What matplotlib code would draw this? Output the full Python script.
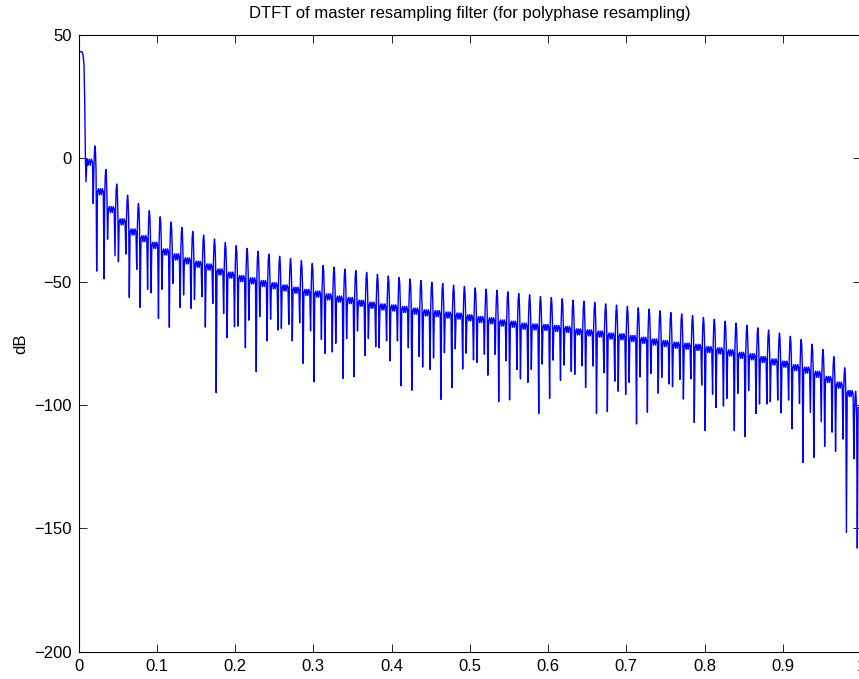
import numpy as np
import matplotlib.pyplot as plt

plt.rcParams['font.family'] = ['Liberation Sans', 'DejaVu Sans']

# Pasabanda del filtro (lóbulo principal)
main_f = [0.0, 0.0042, 0.0055, 0.0068, 0.0076, 0.0082, 0.0086, 0.0093]
main_db = [43.3, 43.2, 42.0, 38.0, 25.0, 8.0, 0.0, -9.5]

# Centros de las imágenes espectrales (k = 1..71)
centers = [0.0208, 0.0347, 0.0486, 0.0625, 0.0764, 0.0903, 0.1042, 0.1181, 0.1319, 0.1458,
           0.1597, 0.1736, 0.1875, 0.2014, 0.2153, 0.2292, 0.2431, 0.2569, 0.2708, 0.2847,
           0.2986, 0.3125, 0.3264, 0.3403, 0.3542, 0.3681, 0.3819, 0.3958, 0.4097, 0.4236,
           0.4375, 0.4514, 0.4653, 0.4792, 0.4931, 0.5069, 0.5208, 0.5347, 0.5486, 0.5625,
           0.5764, 0.5903, 0.6042, 0.6181, 0.6319, 0.6458, 0.6597, 0.6736, 0.6875, 0.7014,
           0.7153, 0.7292, 0.7431, 0.7569, 0.7708, 0.7847, 0.7986, 0.8125, 0.8264, 0.8403,
           0.8542, 0.8681, 0.8819, 0.8958, 0.9097, 0.9236, 0.9375, 0.9514, 0.9653, 0.9792,
           0.9931]

peak_db = [5.0, -4.5, -10.4, -14.9, -18.3, -21.2, -23.7, -25.8, -28.0, -29.6,
           -31.1, -32.7, -34.1, -35.4, -36.5, -37.7, -38.8, -39.7, -40.6, -41.5,
           -42.6, -43.4, -44.1, -44.9, -45.5, -46.2, -47.0, -47.7, -48.3, -48.9,
           -49.5, -50.2, -50.7, -51.4, -51.9, -52.5, -53.0, -53.5, -54.1, -54.8,
           -55.3, -56.0, -56.4, -56.9, -57.5, -57.9, -58.4, -59.0, -59.5, -60.0,
           -60.6, -61.1, -61.8, -62.5, -63.1, -63.7, -64.5, -65.2, -66.0, -66.8,
           -67.7, -68.7, -69.6, -70.8, -72.1, -73.4, -75.3, -77.5, -80.4, -84.9,
           -94.4]

# nivel de fondo después de cada imagen (el primero es antes de k = 1)
base_db = [-1.5,
           -13.5, -20.7, -25.7, -29.8, -32.5, -35.2, -37.9, -39.9, -41.5, -42.9,
           -44.0, -46.0, -47.3, -48.7, -49.6, -50.7, -51.6, -52.5, -53.4, -54.3,
           -55.0, -56.1, -57.0, -57.6, -58.7, -59.5, -60.2, -60.6, -61.2, -61.9,
           -62.6, -62.9, -63.5, -63.9, -64.6, -65.3, -65.8, -66.7, -67.2, -68.0,
           -68.3, -68.5, -68.9, -69.3, -70.3, -70.7, -71.2, -72.0, -72.3, -73.0,
           -73.7, -74.4, -75.0, -75.7, -76.1, -76.6, -77.5, -78.0, -78.8, -79.8,
           -80.4, -81.5, -82.5, -83.4, -84.8, -85.8, -87.5, -89.6, -91.9, -95.3,
           -101.0]

dip_left = [-18.3, -48.8, -39.5, -38.8, -45.0, -53.1, -64.9, -68.5, -60.4, -60.8,
            -56.1, -58.8, -62.9, -68.3, -76.8, -86.5, -74.0, -69.6, -67.3, -66.7,
            -69.9, -73.4, -78.5, -89.2, -88.5, -80.0, -76.4, -74.0, -74.0, -76.8,
            -80.4, -85.6, -97.7, -93.0, -85.4, -81.7, -79.4, -79.5, -82.1, -85.6,
            -90.8, -103.4, -97.3, -90.0, -86.4, -84.1, -84.2, -86.9, -90.3, -95.7,
            -107.7, -102.9, -95.2, -91.5, -89.6, -89.4, -91.9, -95.6, -100.4, -110.4,
            -112.9, -103.4, -99.6, -98.0, -98.0, -99.4, -103.0, -106.8, -111.0, -113.8,
            -121.8]

dip_right = [-45.7, -32.8, -41.9, -56.4, -60.4, -54.5, -53.1, -50.7, -55.4, -57.2,
             -68.4, -95.0, -72.7, -68.0, -65.6, -64.2, -65.2, -68.9, -74.0, -83.1,
             -90.6, -79.1, -75.0, -73.1, -70.0, -73.0, -76.8, -82.1, -92.2, -94.0,
             -84.6, -80.9, -78.8, -77.2, -79.0, -82.7, -87.9, -98.7, -97.9, -89.4,
             -85.6, -83.4, -81.8, -83.8, -87.6, -92.9, -103.4, -102.7, -94.4, -90.8,
             -88.6, -87.2, -88.8, -92.6, -97.6, -107.1, -110.4, -101.0, -97.3, -95.3,
             -94.2, -99.6, -98.7, -103.2, -109.6, -123.3, -121.3, -116.7, -118.8, -151.7,
             -158.0]

# rizado pequeño entre imágenes (dB respecto al fondo)
ripple_db = [1.2, -1.3, 1.2, -1.3, 1.2]

tail_f = [1.0]
tail_db = [-101.0]

# ===============================
# Construir la curva
# ===============================
f = list(main_f)
h = list(main_db)
prev_end = main_f[-1]
for k, c in enumerate(centers):
    lvl = base_db[k]
    xs = np.linspace(prev_end, c - 0.0032, len(ripple_db) + 2)[1:-1]
    f += list(xs)
    h += [lvl + r for r in ripple_db]
    p = peak_db[k]
    f += [c - 0.0032, c - 0.0022, c - 0.0014, c - 0.0007, c,
          c + 0.0007, c + 0.0014, c + 0.0022, c + 0.0032]
    h += [lvl, dip_left[k], p - 10, p - 2.5, p,
          p - 2.5, p - 10, dip_right[k], base_db[k + 1]]
    prev_end = c + 0.0032
f += tail_f
h += tail_db

# ===============================
# Gráfica
# ===============================
fig = plt.figure(figsize=(8.59, 6.79), dpi=100)
ax = fig.add_axes([0.0916, 0.0402, 0.9107, 0.9082])

ax.plot(f, h, color='#0000ff', linewidth=1.0)

ax.set_xlim(0, 1)
ax.set_ylim(-200, 50)
ax.set_xticks(np.arange(0, 1.01, 0.1))
ax.set_xticklabels(['0', '0.1', '0.2', '0.3', '0.4', '0.5', '0.6', '0.7', '0.8', '0.9', '1'])
ax.set_yticks([-200, -150, -100, -50, 0, 50])

ax.tick_params(direction='in', length=5.5, width=0.6, top=True, right=True,
               labelsize=12, pad=5)
for s in ax.spines.values():
    s.set_linewidth(0.8)

ax.set_ylabel("dB", fontsize=12, labelpad=4)
ax.set_title("DTFT of master resampling filter (for polyphase resampling)", fontsize=12, pad=12)

plt.savefig("out.png", dpi=100)
